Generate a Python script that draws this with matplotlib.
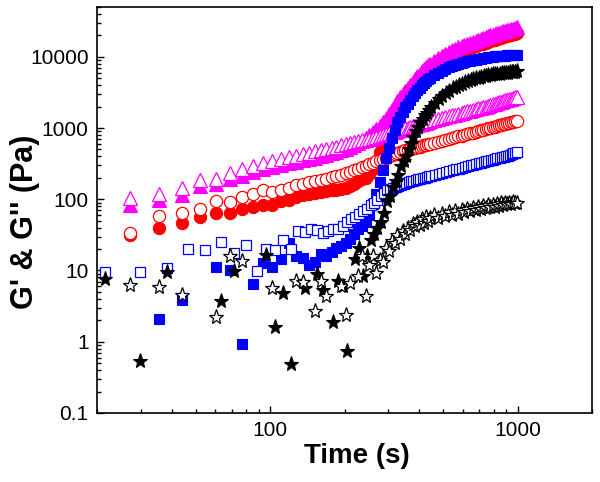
import numpy as np
import matplotlib
matplotlib.use("Agg")
import matplotlib.pyplot as plt
from matplotlib.ticker import FixedLocator, FixedFormatter, LogLocator, NullFormatter

plt.rcParams['font.family'] = ['Liberation Sans', 'DejaVu Sans']

nan = np.nan

# sampling times (s)
tA = [27.3, 35.6, 44.0, 52.3, 60.6, 69.0, 77.3, 85.6, 94.0, 102.3,
      110.6, 119.0, 127.3, 135.6, 144.0, 152.3, 160.6, 169.0, 177.3, 185.6,
      194.0, 202.3, 210.6, 219.0, 227.3, 235.6, 244.0, 252.3, 260.6, 269.0,
      277.3, 285.6, 294.0, 302.3, 310.6, 319.0, 327.3, 335.6, 344.0, 352.3,
      360.6, 369.0, 377.3, 385.6, 394.0, 402.3, 410.6, 419.0, 427.3, 435.6,
      444.0, 460.6, 477.3, 494.0, 510.6, 527.3, 544.0, 560.6, 577.3, 594.0,
      610.6, 627.3, 644.0, 660.6, 677.3, 694.0, 710.6, 727.3, 744.0, 760.6,
      777.3, 794.0, 810.6, 827.3, 844.0, 860.6, 877.3, 894.0, 910.6, 927.3,
      944.0, 960.6, 977.3, 994.0]
tB = [21.5, 29.8, 38.2, 46.5, 54.8, 63.2, 71.5, 79.8, 88.2, 96.5,
      104.8, 113.2, 121.5, 129.8, 138.2, 146.5, 154.8, 163.2, 171.5, 179.8,
      188.2, 196.5, 204.8, 213.2, 221.5, 229.8, 238.2, 246.5, 254.8, 263.2,
      271.5, 279.8, 288.2, 296.5, 304.8, 313.2, 321.5, 329.8, 338.2, 346.5,
      354.8, 363.2, 371.5, 379.8, 388.2, 396.5, 404.8, 413.2, 421.5, 429.8,
      438.2, 446.5, 463.2, 479.8, 496.5, 513.2, 529.8, 546.5, 563.2, 579.8,
      596.5, 613.2, 629.8, 646.5, 663.2, 679.8, 696.5, 713.2, 729.8, 746.5,
      763.2, 779.8, 796.5, 813.2, 829.8, 846.5, 863.2, 879.8, 896.5, 913.2,
      929.8, 946.5, 963.2, 979.8, 996.5]

# magenta triangles (times tA)
mag_Gp = [82, 98, 116, 155, 165, 193, 215, 238, 262, 283,
          303, 323, 337, 352, 368, 385, 402, 420, 440, 460,
          485, 510, 540, 575, 615, 665, 720, 790, 870, 960,
          1070, 1200, 1360, 1550, 1800, 2100, 2400, 2700, 3000, 3300,
          3600, 4000, 4450, 4900, 5350, 5800, 6250, 6700, 7150, 7600,
          8000, 8800, 9600, 10300, 11000, 11700, 12300, 12900, 13500, 14100,
          14700, 15300, 15800, 16300, 16900, 17400, 17900, 18400, 18900, 19400,
          19900, 20400, 20800, 21300, 21800, 22200, 22700, 23100, 23600, 24000,
          24500, 24900, 25400, 25800]
mag_Gpp = [105, 120, 145, 185, 195, 235, 265, 290, 320, 345,
           370, 395, 410, 430, 450, 470, 490, 510, 530, 550,
           570, 590, 610, 630, 650, 670, 690, 710, 730, 750,
           775, 800, 820, 845, 870, 890, 915, 940, 960, 985,
           1010, 1030, 1055, 1080, 1100, 1125, 1150, 1170, 1195, 1220,
           1240, 1290, 1330, 1370, 1420, 1460, 1500, 1540, 1590, 1630,
           1670, 1710, 1750, 1790, 1840, 1880, 1920, 1960, 2000, 2040,
           2090, 2140, 2190, 2240, 2290, 2340, 2390, 2440, 2490, 2540,
           2590, 2640, 2690, 2740]

# red circles (times tA)
red_Gp = [31, 40, 46, 56, 65, 65, 74, 79, 84, 82,
          94, 99, 109, 115, 120, 124, 127, 130, 133, 136,
          140, 146, 155, 165, 178, 192, 200, 225, 270, 340,
          460, 570, 700, 850, 1030, 1250, 1500, 1800, 2100, 2450,
          2800, 3150, 3500, 3900, 4300, 4700, 5100, 5500, 5900, 6250,
          6600, 7300, 8000, 8600, 9200, 9750, 10250, 10750, 11250, 11750,
          12250, 12750, 13200, 13600, 14100, 14500, 14900, 15300, 15700, 16200,
          16600, 17000, 17300, 17700, 18200, 18500, 18900, 19300, 19700, 20000,
          20400, 20800, 21200, 21500]
red_Gpp = [34, 59, 65, 74, 96, 93, 106, 117, 133, 125,
           137, 146, 161, 165, 172, 180, 187, 195, 203, 212,
           222, 232, 243, 255, 267, 280, 295, 310, 325, 340,
           355, 370, 385, 400, 415, 430, 445, 460, 472, 484,
           496, 507, 518, 530, 540, 550, 560, 572, 583, 594,
           605, 625, 645, 665, 685, 705, 725, 745, 765, 785,
           805, 825, 845, 865, 885, 905, 925, 945, 965, 985,
           1005, 1025, 1045, 1065, 1085, 1105, 1125, 1145, 1165, 1185,
           1205, 1225, 1240, 1255]

# blue squares (G' at tA, G'' at tB)
blue_Gp = [nan, 2.1, 3.9, nan, 11.1, 10.3, 0.93, 6.5, 12.8, 11.3,
           14.6, 24.5, 16, 15, 12, 13, 17, 16, 18, 21,
           22, 24, 28, 33, 38, 42, 48, 60, 85, 120,
           175, 260, 380, 530, 720, 950, 1200, 1450, 1700, 1950,
           2200, 2500, 2800, 3100, 3400, 3700, 4000, 4300, 4550, 4800,
           5050, 5500, 5950, 6350, 6750, 7100, 7450, 7750, 8000, 8250,
           8450, 8650, 8850, 9000, 9150, 9300, 9450, 9600, 9700, 9800,
           9900, 10000, 10100, 10150, 10200, 10300, 10350, 10400, 10450, 10500,
           10550, 10600, 10650, 10700]
blue_Gpp = [9.5, 9.6, 10.9, 20.3, 19.7, 25, 17.7, 23, 9.8, 20.3,
            19.3, 26.6, 20.3, 36, 35, 38, 37, 34, 36, 38,
            38, 42, 48, 53, 57, 62, 68, 74, 82, 90,
            99, 110, 122, 135, 140, 146, 151, 156, 161, 166,
            170, 174, 178, 182, 186, 190, 194, 198, 202, 206,
            210, 214, 221, 228, 235, 242, 249, 256, 263, 270,
            277, 284, 291, 298, 305, 312, 319, 326, 333, 340,
            347, 354, 361, 368, 375, 382, 389, 396, 403, 410,
            420, 430, 440, 450, 460]

# black stars (G' at tB, G'' at tA)
blk_Gp = [7.6, 0.53, 9.6, nan, nan, 3.7, 9.8, nan, nan, 16.4,
          1.6, 4.9, 0.48, nan, 5.7, nan, 8.8, 5.4, nan, 1.9,
          7.1, 6.0, 0.74, nan, 14.3, 20.8, 8.3, 15.9, 27, 33,
          40, 48, 65, 95, 110, 150, 180, 220, 290, 340,
          400, 500, 620, 750, 900, 1050, 1200, 1350, 1500, 1650,
          1800, 1950, 2250, 2550, 2850, 3100, 3350, 3600, 3800, 4000,
          4200, 4400, 4550, 4700, 4850, 5000, 5100, 5200, 5300, 5400,
          5500, 5600, 5650, 5700, 5750, 5800, 5850, 5900, 5950, 6000,
          6050, 6100, 6150, 6200, 6250]
blk_Gpp = [6.2, 5.9, 4.5, nan, 2.2, 15.9, 13.5, nan, nan, 5.7,
           nan, nan, 7.1, 7.0, nan, 2.7, 7.1, 4.4, nan, nan,
           6.0, 2.4, 6.7, nan, 8.3, 15.9, 4.4, 12, 16, 9.3,
           14, 13, 21, 19, 26, 24, 31, 28, 36, 33,
           40, 37, 45, 42, 48, 44, 52, 47, 56, 50,
           55, 60, 54, 63, 58, 66, 61, 68, 63, 70,
           66, 73, 68, 75, 70, 78, 73, 80, 75, 82,
           77, 84, 79, 86, 81, 88, 83, 89, 85, 90,
           86, 92, 88, 90]

y_ticks = [0.1, 1, 10, 100, 1000, 10000]
y_ticklabels = ['0.1', '1', '10', '100', '1000', '10000']
x_ticks = [100, 1000]
x_ticklabels = ['100', '1000']

fig = plt.figure(figsize=(6, 4.82), dpi=100)
ax = fig.add_axes([0.1617, 0.1432, 0.825, 0.8423])

MAG = '#FF00FF'
RED = '#FF0000'
BLU = '#0000FF'
BLK = '#000000'

def filled(x, y, m, c, ms):
    ax.plot(x, y, linestyle='none', marker=m, ms=ms, mfc=c, mec=c, mew=0.8)

def hollow(x, y, m, c, ms):
    ax.plot(x, y, linestyle='none', marker=m, ms=ms, mfc='white', mec=c, mew=0.9)

filled(tA, red_Gp, 'o', RED, 8.8)
hollow(tA, red_Gpp, 'o', RED, 8.8)
filled(tA, mag_Gp, '^', MAG, 9.4)
hollow(tA, mag_Gpp, '^', MAG, 9.4)
filled(tA, blue_Gp, 's', BLU, 7.8)
hollow(tB, blue_Gpp, 's', BLU, 7.8)
filled(tB, blk_Gp, '*', BLK, 11)
hollow(tA, blk_Gpp, '*', BLK, 11)

ax.set_xscale('log')
ax.set_yscale('log')
ax.set_xlim(20, 2000)
ax.set_ylim(0.1, 50000)

ax.xaxis.set_major_locator(FixedLocator(x_ticks))
ax.xaxis.set_major_formatter(FixedFormatter(x_ticklabels))
ax.yaxis.set_major_locator(FixedLocator(y_ticks))
ax.yaxis.set_major_formatter(FixedFormatter(y_ticklabels))
ax.xaxis.set_minor_locator(LogLocator(base=10, subs=np.arange(2, 10), numticks=20))
ax.yaxis.set_minor_locator(LogLocator(base=10, subs=np.arange(2, 10), numticks=20))
ax.xaxis.set_minor_formatter(NullFormatter())
ax.yaxis.set_minor_formatter(NullFormatter())

ax.tick_params(which='both', direction='in', top=False, right=False, width=1.0)
ax.tick_params(which='major', length=5, labelsize=15, pad=6)
ax.tick_params(which='minor', length=2.8)

for s in ax.spines.values():
    s.set_linewidth(1.2)

ax.set_xlabel('Time (s)', fontsize=20, fontweight='bold')
ax.set_ylabel("G' & G'' (Pa)", fontsize=22, fontweight='bold')
ax.xaxis.label.set_va('center')
ax.yaxis.label.set_va('center')
ax.yaxis.label.set_ha('center')
ax.xaxis.set_label_coords(0.525, -0.106)
ax.yaxis.set_label_coords(-0.145, 0.47)

fig.savefig('out.png', dpi=100)
